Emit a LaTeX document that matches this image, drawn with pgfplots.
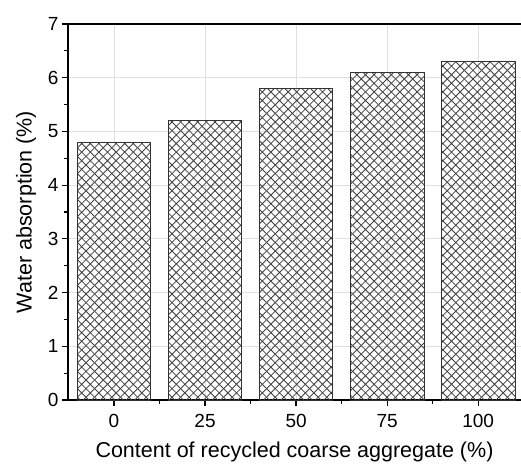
\documentclass[border=0pt]{standalone}
\usepackage{pgfplots}
\pgfplotsset{compat=1.18}
\usepackage{fontspec}
\setmainfont{Liberation Sans}
\usetikzlibrary{patterns.meta,calc}
\pgfdeclarepattern{
  name=diagcross, type=uncolored,
  bottom left={\pgfpoint{-0.1pt}{-0.1pt}},
  top right={\pgfpoint{8.7pt}{8.7pt}},
  tile size={\pgfpoint{8.6pt}{8.6pt}},
  code={
    \pgfsetlinewidth{0.8pt}
    \pgfpathmoveto{\pgfpoint{0pt}{0pt}}\pgfpathlineto{\pgfpoint{8.6pt}{8.6pt}}
    \pgfpathmoveto{\pgfpoint{0pt}{8.6pt}}\pgfpathlineto{\pgfpoint{8.6pt}{0pt}}
    \pgfusepath{stroke}
  }
}
\begin{document}
\begin{tikzpicture}
\begin{axis}[
  scale only axis, width=453pt, height=376pt,
  xmin=-0.505, xmax=4.47, ymin=0, ymax=7,
  axis x line*=bottom, axis y line*=left,
  axis line style={line width=1.3pt},
  xtick={0,1,2,3,4}, xticklabels={0,25,50,75,100},
  minor xtick={0.5,1.5,2.5,3.5},
  ytick={0,1,...,7}, minor ytick={0.5,1.5,...,6.5},
  tick align=outside, tick pos=left,
  major tick length=6pt, minor tick length=4pt,
  tick style={line width=1.2pt, black},
  grid=major, major grid style={line width=0.8pt, black!12},
  ticklabel style={font=\fontsize{19}{22}\selectfont},
  xticklabel style={yshift=-5pt},
  /pgf/number format/assume math mode=true,
  xlabel={Content of recycled coarse aggregate (\%)},
  ylabel={Water absorption (\%)},
  label style={font=\fontsize{21.5}{25}\selectfont},
  xlabel style={yshift=-7pt},
  ylabel style={yshift=5pt},
  clip=false,
]
\addplot[ybar, bar width=0.81, draw=black!80, line width=1pt,
  pattern=diagcross, pattern color=black!75]
  coordinates {(0,4.8) (1,5.2) (2,5.8) (3,6.1) (4,6.3)};
\draw[line width=1.3pt] (rel axis cs:0,1) -- (rel axis cs:1,1);
\coordinate (bl) at (rel axis cs:0,0);
\coordinate (tr) at (rel axis cs:1,1);
\end{axis}
\pgfresetboundingbox
\path[use as bounding box] ($(bl)+(-68pt,-66pt)$) rectangle ($(tr)+(0pt,24pt)$);
\end{tikzpicture}
\end{document}
